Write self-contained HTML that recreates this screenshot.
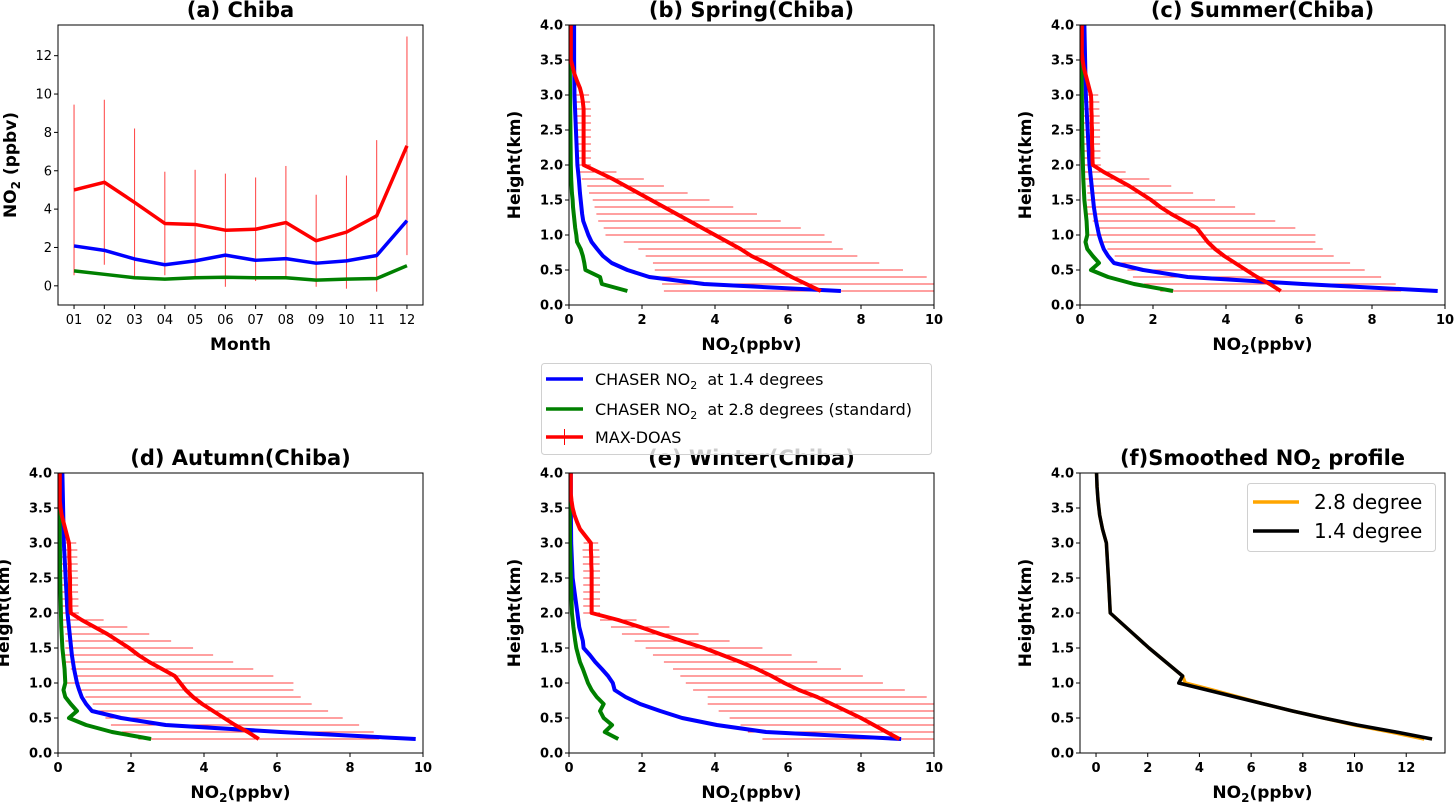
<!DOCTYPE html>
<html><head><meta charset="utf-8">
<style>
html,body{margin:0;padding:0;background:#fff;}
svg{display:block;font-family:"DejaVu Sans","Liberation Sans",sans-serif;}
</style></head>
<body>
<svg id="fig" width="1455" height="803" viewBox="0 0 1455 803" xmlns="http://www.w3.org/2000/svg"></svg>
<script>
// ---------- Panel (a) monthly data ----------
const months = ["01","02","03","04","05","06","07","08","09","10","11","12"];
const aRed = [5.0,5.4,4.35,3.25,3.2,2.9,2.95,3.3,2.35,2.8,3.65,7.3];
const aRedErr = [4.45,4.3,3.85,2.7,2.85,2.95,2.7,2.95,2.4,2.95,3.95,5.7];
const aBlue = [2.08,1.85,1.4,1.1,1.3,1.6,1.33,1.42,1.18,1.3,1.58,3.4];
const aGreen = [0.78,0.6,0.42,0.35,0.42,0.45,0.42,0.42,0.3,0.35,0.38,1.05];
const aYTicks = [0,2,4,6,8,10,12];

// ---------- profile heights ----------
const obsH = [0.2,0.3,0.4,0.5,0.6,0.7,0.8,0.9,1.0,1.1,1.2,1.3,1.4,1.5,1.6,1.7,1.8,1.9,2.0,2.1,2.2,2.3,2.4,2.5,2.6,2.7,2.8,2.9,3.0,3.1,3.2,3.3,3.4,3.5,3.6,3.7,3.8,3.9,4.0];
const modelH = [0.2,0.3,0.4,0.5,0.6,0.7,0.8,0.9,1.0,1.1,1.2,1.3,1.4,1.5,1.6,1.8,2.0,2.5,3.0,3.5,4.0];

// (b) Spring
const bRed = [6.9,6.5,6.1,5.75,5.4,5.0,4.7,4.35,4.0,3.65,3.3,2.95,2.6,2.25,1.9,1.55,1.2,0.8,0.4,0.4,0.4,0.4,0.4,0.4,0.4,0.4,0.4,0.38,0.35,0.3,0.22,0.15,0.1,0.05,0.05,0.05,0.05,0.05,0.05];
const bErr = [4.3,3.95,3.7,3.4,3.1,2.9,2.8,2.85,3.0,2.7,2.5,2.2,1.9,1.6,1.35,1.05,0.85,0.5,0.2,0.2,0.2,0.2,0.2,0.2,0.2,0.2,0.2,0.2,0.2,0,0,0,0,0,0,0,0,0,0];
const bBlue = [7.45,3.7,2.2,1.6,1.17,0.93,0.77,0.62,0.53,0.46,0.39,0.36,0.34,0.32,0.3,0.27,0.23,0.19,0.15,0.14,0.14];
const bGreen = [1.6,0.9,0.85,0.45,0.42,0.38,0.32,0.22,0.2,0.17,0.15,0.13,0.11,0.1,0.08,0.06,0.05,0.04,0.03,0.02,0.02];

// (c) Summer
const cRed = [5.5,5.2,4.85,4.55,4.25,3.95,3.7,3.5,3.35,3.2,2.85,2.5,2.2,1.95,1.65,1.35,1.0,0.65,0.35,0.34,0.34,0.33,0.33,0.33,0.32,0.32,0.31,0.31,0.3,0.25,0.2,0.15,0.1,0.07,0.05,0.05,0.05,0.05,0.05];
const cErr = [3.3,3.45,3.4,3.25,3.15,3.0,2.95,2.95,3.1,2.7,2.5,2.3,2.05,1.75,1.45,1.15,0.9,0.6,0.22,0.22,0.22,0.22,0.22,0.22,0.22,0.22,0.22,0.22,0.2,0,0,0,0,0,0,0,0,0,0];
const cBlue = [9.8,6.1,2.95,1.73,0.93,0.77,0.65,0.58,0.52,0.48,0.44,0.41,0.38,0.36,0.34,0.3,0.26,0.21,0.16,0.14,0.12];
const cGreen = [2.55,1.48,0.77,0.3,0.52,0.35,0.2,0.15,0.2,0.19,0.18,0.16,0.14,0.12,0.11,0.09,0.08,0.06,0.05,0.04,0.03];

// (d) Autumn
const dRed = [5.5,5.2,4.85,4.55,4.25,3.95,3.7,3.5,3.35,3.2,2.85,2.5,2.2,1.95,1.65,1.35,1.0,0.65,0.35,0.34,0.34,0.33,0.33,0.33,0.32,0.32,0.31,0.31,0.3,0.25,0.2,0.15,0.1,0.07,0.05,0.05,0.05,0.05,0.05];
const dErr = [3.3,3.45,3.4,3.25,3.15,3.0,2.95,2.95,3.1,2.7,2.5,2.3,2.05,1.75,1.45,1.15,0.9,0.6,0.22,0.22,0.22,0.22,0.22,0.22,0.22,0.22,0.22,0.22,0.2,0,0,0,0,0,0,0,0,0,0];
const dBlue = [9.8,6.1,2.95,1.73,0.93,0.77,0.65,0.58,0.52,0.48,0.44,0.41,0.38,0.36,0.34,0.3,0.26,0.21,0.16,0.14,0.12];
const dGreen = [2.55,1.48,0.77,0.3,0.52,0.35,0.2,0.15,0.2,0.19,0.18,0.16,0.14,0.12,0.11,0.09,0.08,0.06,0.05,0.04,0.03];

// (e) Winter
const eRed = [9.05,8.7,8.35,8.0,7.6,7.2,6.8,6.3,5.9,5.55,5.15,4.7,4.2,3.7,3.1,2.5,1.95,1.35,0.62,0.62,0.62,0.62,0.62,0.62,0.62,0.61,0.61,0.6,0.6,0.45,0.3,0.22,0.15,0.1,0.07,0.05,0.05,0.05,0.05];
const eErr = [3.75,3.8,3.65,3.6,3.5,3.4,3.0,2.9,2.7,2.5,2.3,2.1,1.9,1.6,1.3,1.05,0.8,0.5,0.23,0.23,0.23,0.23,0.23,0.23,0.23,0.23,0.23,0.23,0.2,0,0,0,0,0,0,0,0,0,0];
const eBlue = [9.1,5.4,4.05,3.1,2.5,1.95,1.55,1.25,1.2,1.07,0.9,0.72,0.57,0.4,0.38,0.28,0.23,0.1,0.06,0.05,0.05];
const eGreen = [1.35,0.98,1.18,0.95,0.85,0.95,0.76,0.62,0.52,0.45,0.38,0.3,0.25,0.2,0.17,0.12,0.08,0.05,0.03,0.02,0.02];

// (f) Smoothed
const fH = [0.2,0.3,0.4,0.5,0.6,0.7,0.8,0.9,1.0,1.1,1.3,1.5,1.7,2.0,2.5,3.0,3.2,3.4,3.6,3.8,4.0];
const fBlack = [13.0,11.6,10.1,8.8,7.6,6.5,5.4,4.3,3.2,3.35,2.7,2.05,1.45,0.55,0.48,0.4,0.25,0.14,0.08,0.04,0.02];
const fOrange = [12.7,11.4,10.0,8.8,7.6,6.5,5.5,4.5,3.45,3.35,2.7,2.05,1.45,0.55,0.48,0.4,0.25,0.14,0.08,0.04,0.02];

const profXTicks = [0,2,4,6,8,10];
const profYTicks = [0.0,0.5,1.0,1.5,2.0,2.5,3.0,3.5,4.0];
const fXTicks = [0,2,4,6,8,10,12];

const NS = "http://www.w3.org/2000/svg";
const svg = document.getElementById('fig');
function mk(tag, attrs, parent){
  const e = document.createElementNS(NS, tag);
  for (const k in attrs) e.setAttribute(k, attrs[k]);
  (parent||svg).appendChild(e);
  return e;
}
function scale(d0,d1,r0,r1){ return v => r0 + (v-d0)/(d1-d0)*(r1-r0); }

function panel(id, L, T, R, B, xd, yd){
  const g = mk('g', {});
  
  
  const clipId = 'clip-' + id;
  const cp = mk('clipPath', {id: clipId}, g);
  mk('rect', {x:L, y:T, width:R-L, height:B-T}, cp);
  const plot = mk('g', {'clip-path':'url(#'+clipId+')'}, g);
  
  
  return {g, plot, L, T, R, B, x: scale(xd[0],xd[1],L,R), y: scale(yd[0],yd[1],B,T)};
}
function frame(p){
  const r = mk('rect', {x:p.L, y:p.T, width:p.R-p.L, height:p.B-p.T, fill:'none', stroke:'#000', 'stroke-width':1}, p.g);
  
  
}
function xTicks(p, vals, labels, bold){
  vals.forEach((v,i)=>{
    const X = p.x(v);
    mk('line', {x1:X, x2:X, y1:p.B, y2:p.B+4, stroke:'#000', 'stroke-width':1}, p.g);
    const t = mk('text', {x:X, y:p.B+19, 'text-anchor':'middle', 'font-size':13, 'font-weight':bold?'bold':'normal'}, p.g);
    t.textContent = labels[i];
    
    
  });
}
function yTicks(p, vals, labels, bold){
  vals.forEach((v,i)=>{
    const Y = p.y(v);
    mk('line', {x1:p.L-4, x2:p.L, y1:Y, y2:Y, stroke:'#000', 'stroke-width':1}, p.g);
    const t = mk('text', {x:p.L-6, y:Y+4.5, 'text-anchor':'end', 'font-size':13, 'font-weight':bold?'bold':'normal'}, p.g);
    t.textContent = labels[i];
    
    
  });
}
function polyline(p, xs, ys, color, w, name){
  const pts = xs.map((v,i)=>p.x(v)+','+p.y(ys[i])).join(' ');
  const l = mk('polyline', {points:pts, fill:'none', stroke:color, 'stroke-width':w, 'stroke-linejoin':'round'}, p.plot);
  
  
}
function title(p, html, yy){
  const t = mk('text', {x:(p.L+p.R)/2, y:yy, 'text-anchor':'middle', 'font-size':21, 'font-weight':'bold'}, svg);
  t.innerHTML = html;
  
  
}
function xLabel(p, html){
  const t = mk('text', {x:(p.L+p.R)/2, y:p.B+45, 'text-anchor':'middle', 'font-size':17, 'font-weight':'bold'}, p.g);
  t.innerHTML = html;
  
  
}
function yLabel(p, html, off){
  const cx = p.L - off, cy = (p.T+p.B)/2;
  const t = mk('text', {x:cx, y:cy, 'text-anchor':'middle', 'font-size':17, 'font-weight':'bold', transform:'rotate(-90 '+cx+' '+cy+')'}, p.g);
  t.innerHTML = html;
  
  
}
const NO2 = 'NO<tspan font-size="12" dy="4">2</tspan><tspan dy="-4">(ppbv)</tspan>';

// ----- panel a -----
const pa = panel('panel-a-chiba', 58, 25, 423, 305, [0.47,12.53], [-1,13.6]);
const mIdx = months.map((m,i)=>i+1);
mIdx.forEach((m,i)=>{
  const X = pa.x(m);
  const eb = mk('line', {x1:X, x2:X, y1:pa.y(aRed[i]-aRedErr[i]), y2:pa.y(aRed[i]+aRedErr[i]), stroke:'#ff0000', 'stroke-width':1, 'stroke-opacity':0.75}, pa.plot);
  
  
});
polyline(pa, mIdx, aRed, '#ff0000', 3.5, 'maxdoas-line');
polyline(pa, mIdx, aBlue, '#0000ff', 3.5, 'chaser-1.4-line');
polyline(pa, mIdx, aGreen, '#008000', 3.5, 'chaser-2.8-line');
frame(pa);
xTicks(pa, mIdx, months, false);
yTicks(pa, aYTicks, aYTicks.map(String), false);
xLabel(pa, 'Month');
yLabel(pa, 'NO<tspan font-size="12" dy="4">2</tspan><tspan dy="-4"> (ppbv)</tspan>', 42);
title(pa, '(a) Chiba', 17);

function profilePanel(id, L, T, R, B, red, err, blue, green, ttl, ty){
  const p = panel(id, L, T, R, B, [0,10], [0,4]);
  obsH.forEach((h,i)=>{
    if (err[i] <= 0) return;
    const eb = mk('line', {x1:p.x(red[i]-err[i]), x2:p.x(red[i]+err[i]), y1:p.y(h), y2:p.y(h), stroke:'#ff0000', 'stroke-width':1, 'stroke-opacity':0.75}, p.plot);
    
    
  });
  polyline(p, blue, modelH, '#0000ff', 4, 'chaser-1.4-profile');
  polyline(p, green, modelH, '#008000', 4, 'chaser-2.8-profile');
  polyline(p, red, obsH, '#ff0000', 4, 'maxdoas-profile');
  frame(p);
  xTicks(p, profXTicks, profXTicks.map(String), true);
  yTicks(p, profYTicks, profYTicks.map(v=>v.toFixed(1)), true);
  xLabel(p, NO2);
  yLabel(p, 'Height(km)', 49);
  title(p, ttl, ty);
  return p;
}
profilePanel('panel-b-spring', 569, 25, 934, 305, bRed, bErr, bBlue, bGreen, '(b) Spring(Chiba)', 17);
profilePanel('panel-c-summer', 1080, 25, 1445, 305, cRed, cErr, cBlue, cGreen, '(c) Summer(Chiba)', 17);
profilePanel('panel-d-autumn', 58, 473, 423, 753, dRed, dErr, dBlue, dGreen, '(d) Autumn(Chiba)', 465);
profilePanel('panel-e-winter', 569, 473, 934, 753, eRed, eErr, eBlue, eGreen, '(e) Winter(Chiba)', 465);

// ----- panel f -----
const pf = panel('panel-f-smoothed', 1080, 473, 1445, 753, [-0.62,13.5], [0,4]);
polyline(pf, fOrange, fH, '#ffa500', 3.5, 'smoothed-2.8-line');
polyline(pf, fBlack, fH, '#000000', 3.5, 'smoothed-1.4-line');
frame(pf);
xTicks(pf, fXTicks, fXTicks.map(String), true);
yTicks(pf, profYTicks, profYTicks.map(v=>v.toFixed(1)), true);
xLabel(pf, NO2);
yLabel(pf, 'Height(km)', 49);
title(pf, '(f)Smoothed NO<tspan font-size="14" dy="4">2</tspan><tspan dy="-4"> profile</tspan>', 465);

// legend f
const lf = mk('g', {});


mk('rect', {x:1247.5, y:483.5, width:188, height:68, rx:3, fill:'#fff', 'fill-opacity':0.8, stroke:'#d0d0d0'}, lf);
[['2.8 degree','#ffa500',502],['1.4 degree','#000',531]].forEach(e=>{
  mk('line', {x1:1253, x2:1299, y1:e[2], y2:e[2], stroke:e[1], 'stroke-width':3.5}, lf);
  const t = mk('text', {x:1314, y:e[2]+7, 'font-size':20}, lf);
  t.textContent = e[0];
  
  
});

// main legend
const lg = mk('g', {});


mk('rect', {x:541.5, y:363.5, width:390, height:91, rx:3, fill:'#fff', 'fill-opacity':0.8, stroke:'#d0d0d0'}, lg);
const sub = '<tspan font-size="11" dy="4">2</tspan><tspan dy="-4">';
[['CHASER NO'+sub+'&#160;&#160;at 1.4 degrees</tspan>','#0000ff',379],
 ['CHASER NO'+sub+'&#160;&#160;at 2.8 degrees (standard)</tspan>','#008000',409],
 ['MAX-DOAS','#ff0000',437]].forEach((e,i)=>{
  mk('line', {x1:546, x2:583, y1:e[2], y2:e[2], stroke:e[1], 'stroke-width':3.5}, lg);
  if (i===2) mk('line', {x1:564.5, x2:564.5, y1:e[2]-8, y2:e[2]+8, stroke:e[1], 'stroke-width':1}, lg);
  const t = mk('text', {x:595, y:e[2]+6, 'font-size':16}, lg);
  t.innerHTML = e[0];
  
  
});
</script>
</body></html>
